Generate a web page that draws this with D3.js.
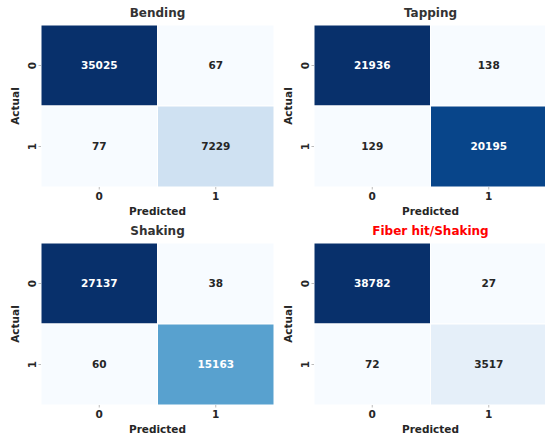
<!DOCTYPE html>
<html>
<head>
<meta charset="utf-8">
<script src="https://cdn.jsdelivr.net/npm/d3@7"></script>
<style>
  html, body { margin: 0; padding: 0; background: #fff; }
  svg { display: block; }
  text { font-family: "DejaVu Sans", sans-serif; font-weight: bold; }
</style>
</head>
<body>
<svg id="chart" width="545" height="441"></svg>
<script>
// Confusion matrices, rows = actual class, columns = predicted class
const classLabels = ["0", "1"];
const titles = ["Bending", "Tapping", "Shaking", "Fiber hit/Shaking"];
const titleColors = ["#333333", "#333333", "#333333", "#ff0000"];
const bendingMatrix = [[35025, 67], [77, 7229]];
const tappingMatrix = [[21936, 138], [129, 20195]];
const shakingMatrix = [[27137, 38], [60, 15163]];
const fiberHitMatrix = [[38782, 27], [72, 3517]];
const matrices = [bendingMatrix, tappingMatrix, shakingMatrix, fiberHitMatrix];

// Sequential "Blues" palette stops
const bluesStops = ["#f7fbff", "#deebf7", "#c6dbef", "#9ecae1", "#6baed6",
                    "#4292c6", "#2171b5", "#08519c", "#08306b"];

const svg = d3.select("#chart");

// Panel placement: [left, top] of each heatmap
const panels = [
  { x: 41, y: 25 },
  { x: 314, y: 25 },
  { x: 41, y: 243 },
  { x: 314, y: 243 }
];
const cellW = 116.5, cellH = 81;
const plotW = cellW * 2, plotH = cellH * 2;

function luminance(c) {
  const rgb = d3.rgb(c);
  const f = v => { v /= 255; return v <= 0.03928 ? v / 12.92 : Math.pow((v + 0.055) / 1.055, 2.4); };
  return 0.2126 * f(rgb.r) + 0.7152 * f(rgb.g) + 0.0722 * f(rgb.b);
}

matrices.forEach((m, i) => {
  const p = panels[i];
  const g = svg.append("g").attr("transform", `translate(${p.x},${p.y})`);
  const flat = m.flat();
  const vmin = d3.min(flat), vmax = d3.max(flat);

  const norm = d3.scaleLinear().domain([vmin, vmax]).range([0, 1]);
  const color = d3.scaleLinear()
    .domain(d3.range(bluesStops.length).map(k => k / (bluesStops.length - 1)))
    .range(bluesStops)
    .interpolate(d3.interpolateRgb)
    .clamp(true);

  const x = d3.scaleBand().domain(classLabels).range([0, plotW]);
  const y = d3.scaleBand().domain(classLabels).range([0, plotH]);

  const cells = [];
  m.forEach((row, r) => row.forEach((v, c) => cells.push({ r: classLabels[r], c: classLabels[c], v })));

  g.selectAll("rect.cell").data(cells).enter().append("rect")
    .attr("class", "cell")
    .attr("x", d => x(d.c))
    .attr("y", d => y(d.r))
    .attr("width", x.bandwidth())
    .attr("height", y.bandwidth())
    .attr("fill", d => color(norm(d.v)))
    .attr("stroke", "#ffffff")
    .attr("stroke-width", 1);

  g.selectAll("text.val").data(cells).enter().append("text")
    .attr("class", "val")
    .attr("x", d => x(d.c) + x.bandwidth() / 2)
    .attr("y", d => y(d.r) + y.bandwidth() / 2)
    .attr("dy", "0.36em")
    .attr("text-anchor", "middle")
    .attr("font-size", 10.5)
    .attr("fill", d => luminance(color(norm(d.v))) > 0.408 ? "#262626" : "#ffffff")
    .text(d => d.v);

  // x axis
  const xAxis = g.append("g").attr("transform", `translate(0,${plotH})`)
    .call(d3.axisBottom(x).tickSize(2.5).tickPadding(3));
  xAxis.select(".domain").remove();
  xAxis.selectAll(".tick line").attr("stroke", "#aaaaaa").attr("stroke-width", 0.8);
  xAxis.selectAll(".tick text")
    .attr("font-size", 10.5).attr("fill", "#262626")
    .attr("font-family", "DejaVu Sans").attr("font-weight", "bold");

  // y axis with rotated tick labels
  const yAxis = g.append("g").call(d3.axisLeft(y).tickSize(2.5).tickPadding(3));
  yAxis.select(".domain").remove();
  yAxis.selectAll(".tick line").attr("stroke", "#aaaaaa").attr("stroke-width", 0.8);
  yAxis.selectAll(".tick text")
    .attr("font-size", 10.5).attr("fill", "#262626")
    .attr("font-family", "DejaVu Sans").attr("font-weight", "bold")
    .attr("x", null).attr("dy", null)
    .attr("text-anchor", "middle")
    .attr("transform", "translate(-5.5,0) rotate(-90)")
    .attr("y", 0);

  // titles and axis labels
  g.append("text")
    .attr("x", plotW / 2).attr("y", -8.5)
    .attr("text-anchor", "middle")
    .attr("font-size", 12)
    .attr("fill", titleColors[i])
    .text(titles[i]);

  g.append("text")
    .attr("x", plotW / 2).attr("y", plotH + 28)
    .attr("text-anchor", "middle")
    .attr("font-size", 10.5)
    .attr("fill", "#262626")
    .text("Predicted");

  g.append("text")
    .attr("transform", `translate(-22,${plotH / 2}) rotate(-90)`)
    .attr("text-anchor", "middle")
    .attr("font-size", 10.5)
    .attr("fill", "#262626")
    .text("Actual");
});
</script>
</body>
</html>
